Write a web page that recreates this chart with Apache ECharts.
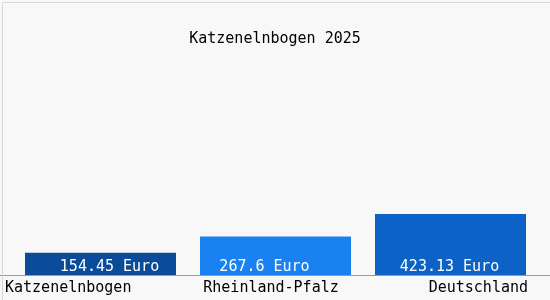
<!DOCTYPE html>
<html>
<head>
<meta charset="utf-8">
<script src="https://cdn.jsdelivr.net/npm/echarts@6/dist/echarts.min.js"></script>
<style>html,body{margin:0;padding:0;background:#fff}#c{width:550px;height:300px}</style>
</head>
<body>
<div id="c"></div>
<script>
const title = 'Katzenelnbogen 2025';
const categories = ['Katzenelnbogen', 'Rheinland-Pfalz', 'Deutschland'];
const values = [154.45, 267.6, 423.13];
const unit = 'Euro';
const barColors = ['#0a4c9a', '#1a82f0', '#0c62c6'];

const FONT = '"DejaVu Sans Mono", "Liberation Mono", monospace';
const labelOffsets = [[9, 0], [-11, 0], [-1, 0]];
const catAlign = ['left', 'center', 'right'];
const catPad = [[0, 0, 0, 5], [0, 8, 0, 0], [0, 22, 0, 0]];

const chart = echarts.init(document.getElementById('c'), null, {renderer: 'canvas'});
chart.setOption({
  backgroundColor: '#f8f8f8',
  animation: false,
  title: {
    text: title, left: 'center', top: 27,
    textStyle: {fontFamily: FONT, fontSize: 15, fontWeight: 'normal', color: '#000'}
  },
  grid: [
    {left: 13, right: 12, top: 75, bottom: 25},
    {left: 0, right: 0, top: 75, bottom: 25}
  ],
  xAxis: [{
    type: 'category', data: categories, gridIndex: 0,
    axisLine: {show: false},
    axisTick: {show: false},
    axisLabel: {show: false}
  }, {
    type: 'category', gridIndex: 1, position: 'bottom', boundaryGap: false,
    data: categories.map((c, i) => ({value: c, textStyle: {align: catAlign[i], padding: catPad[i]}})),
    axisLine: {show: true, lineStyle: {color: '#999', width: 1}},
    axisTick: {show: false},
    axisLabel: {show: true, interval: 0, margin: 6, fontFamily: FONT, fontSize: 15, color: '#000'}
  }],
  yAxis: [
    {type: 'value', gridIndex: 0, min: 0, max: 1387, show: false, splitLine: {show: false}},
    {type: 'value', gridIndex: 1, min: 0, max: 1387, show: false, splitLine: {show: false}}
  ],
  series: [{
    type: 'bar', xAxisIndex: 0, yAxisIndex: 0, barWidth: 151,
    data: values.map((v, i) => ({
      value: v,
      itemStyle: {color: barColors[i]},
      label: {offset: labelOffsets[i]}
    })),
    label: {
      show: true, position: 'insideBottom', distance: 0,
      fontFamily: FONT, fontSize: 15, color: '#fff',
      formatter: p => p.value + ' ' + unit
    }
  }],
  graphic: [{
    type: 'rect', left: 0, top: 0, z: 100, silent: true,
    shape: {x: 0.5, y: 0.5, width: 548, height: 298},
    style: {fill: null, stroke: '#d8d8d8', lineWidth: 1}
  }]
});
</script>
</body>
</html>
